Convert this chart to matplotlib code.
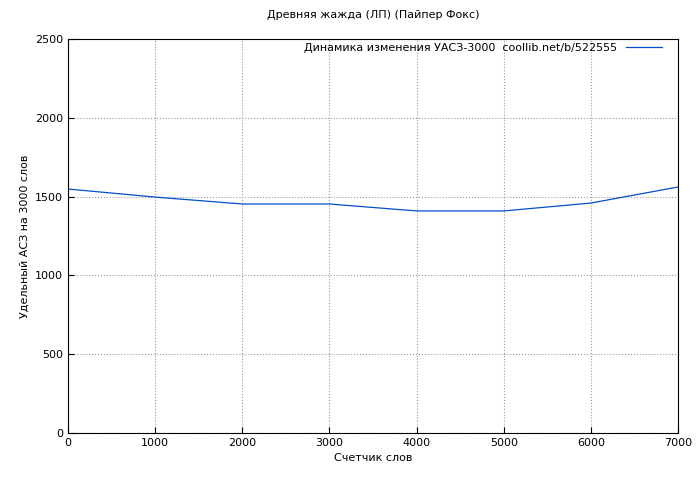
import matplotlib

matplotlib.use("Agg")
import matplotlib.pyplot as plt

words = [0, 1000, 2000, 3000, 4000, 5000, 6000, 7000]
ac3 = [1548, 1497, 1453, 1453, 1409, 1409, 1459, 1561]

fig = plt.figure(figsize=(7, 4.8), dpi=100)
ax = fig.add_axes([68 / 700, 1 - 433 / 480, 610 / 700, 394 / 480])

ax.plot(words, ac3, color="#0050c8", linewidth=0.9,
        label="Динамика изменения УАСЗ-3000  coollib.net/b/522555")
ax.set_xlim(0, 7000)
ax.set_ylim(0, 2500)
ax.set_xticks(range(0, 7001, 1000))
ax.set_yticks(range(0, 2501, 500))
ax.grid(True, color="#999999", linestyle=":", linewidth=0.8)
ax.tick_params(labelsize=8, direction="in", length=4)
for s in ax.spines.values():
    s.set_color("black")

ax.set_xlabel("Счетчик слов", fontsize=8)
ax.set_ylabel("Удельный АСЗ на 3000 слов", fontsize=8)
ax.set_title("Древняя жажда (ЛП) (Пайпер Фокс)", fontsize=8, pad=15)

leg = ax.legend(loc="upper right", fontsize=8, frameon=False,
                markerfirst=False, handlelength=3.2,
                bbox_to_anchor=(0.99, 1.015))

fig.savefig("out.png", dpi=100)
plt.close(fig)
